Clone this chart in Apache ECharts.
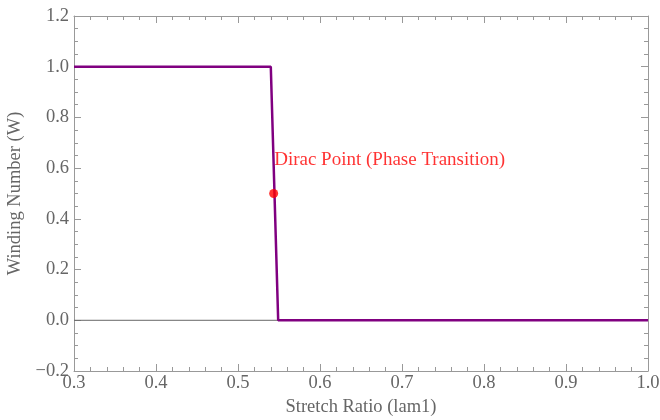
<!DOCTYPE html>
<html><head><meta charset="utf-8">
<script src="https://cdn.jsdelivr.net/npm/echarts@6/dist/echarts.min.js"></script>
<style>html,body{margin:0;padding:0;background:#fff}#c{width:660px;height:420px}</style>
</head><body><div id="c"></div>
<script>
const stretch = [0.3, 0.540, 0.549, 1.0];
const winding = [1, 1, 0, 0];
const diracPoint = [0.5435, 0.5];
const diracLabel = 'Dirac Point (Phase Transition)';
const zeroLineX = [0.3, 1.0];
const xLabel = 'Stretch Ratio (lam1)';
const yLabel = 'Winding Number (W)';

const font = '"Liberation Serif","Times New Roman",serif';
const frameColor = '#999';
const labelColor = '#666';
const fmt = v => (v < 0 ? '\u2212' : '') + Math.abs(v).toFixed(1);

function xAxis(pos, show) {
  return {
    type: 'value', position: pos, min: 0.3, max: 1.0, interval: 0.1,
    name: show ? xLabel : '', nameLocation: 'middle', nameGap: 27,
    nameTextStyle: {fontFamily: font, fontSize: 18.5, color: labelColor},
    axisLine: {show: true, onZero: false, lineStyle: {color: frameColor, width: 1}},
    axisTick: {show: true, inside: true, length: 7, lineStyle: {color: frameColor}},
    minorTick: {show: true, splitNumber: 5, length: 4, lineStyle: {color: frameColor}},
    axisLabel: {show: show, formatter: fmt, fontFamily: font, fontSize: 18.5, color: labelColor, margin: 3, showMinLabel: true, showMaxLabel: true},
    splitLine: {show: false}
  };
}
function yAxis(pos, show) {
  return {
    type: 'value', position: pos, min: -0.2, max: 1.2, interval: 0.2,
    name: show ? yLabel : '', nameLocation: 'middle', nameGap: 49,
    nameTextStyle: {fontFamily: font, fontSize: 18.5, color: labelColor},
    axisLine: {show: true, onZero: false, lineStyle: {color: frameColor, width: 1}},
    axisTick: {show: true, inside: true, length: 7, lineStyle: {color: frameColor}},
    minorTick: {show: true, splitNumber: 4, length: 4, lineStyle: {color: frameColor}},
    axisLabel: {show: show, formatter: fmt, fontFamily: font, fontSize: 18.5, color: labelColor, margin: 5},
    splitLine: {show: false}
  };
}

const chart = echarts.init(document.getElementById('c'), null, {renderer: 'canvas'});
chart.setOption({
  animation: false,
  backgroundColor: '#fff',
  grid: {left: 74, right: 12, top: 16, bottom: 49, containLabel: false, outerBoundsMode: 'none'},
  xAxis: [xAxis('bottom', true), xAxis('top', false)],
  yAxis: [yAxis('left', true), yAxis('right', false)],
  series: [
    {
      type: 'line', name: 'zero', silent: true, symbol: 'none',
      data: zeroLineX.map(x => [x, 0]),
      lineStyle: {color: '#666', width: 1}, z: 1
    },
    {
      type: 'line', name: 'W', symbol: 'none',
      data: stretch.map((x, i) => [x, winding[i]]),
      lineStyle: {color: '#800080', width: 2.5}, z: 2
    },
    {
      type: 'scatter', name: 'dirac', symbol: 'circle', symbolSize: 9,
      data: [diracPoint],
      itemStyle: {color: '#ff0000'}, z: 3,
      label: {
        show: true, formatter: diracLabel, position: [5, -38],
        align: 'left', verticalAlign: 'top',
        fontFamily: font, fontSize: 19, color: '#ff0000'
      }
    }
  ]
});
</script></body></html>
